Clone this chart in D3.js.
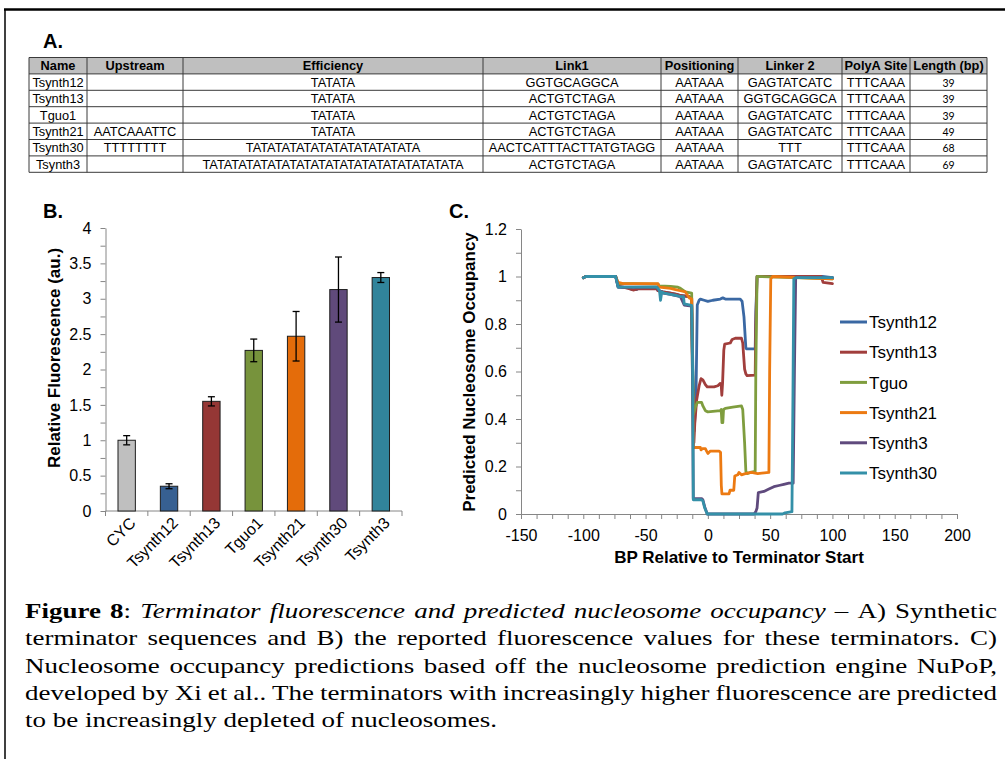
<!DOCTYPE html>
<html><head><meta charset="utf-8">
<script src="https://cdn.jsdelivr.net/npm/d3@7"></script>
<style>body{margin:0;background:#fff} svg{display:block}</style>
</head><body>
<svg id="c" width="1005" height="759"></svg>
<script>
// ---------- DATA ----------
const tableColumns = ["Name","Upstream","Efficiency","Link1","Positioning","Linker 2","PolyA Site","Length (bp)"];
const tableRows = [
  ["Tsynth12","","TATATA","GGTGCAGGCA","AATAAA","GAGTATCATC","TTTCAAA","39"],
  ["Tsynth13","","TATATA","ACTGTCTAGA","AATAAA","GGTGCAGGCA","TTTCAAA","39"],
  ["Tguo1","","TATATA","ACTGTCTAGA","AATAAA","GAGTATCATC","TTTCAAA","39"],
  ["Tsynth21","AATCAAATTC","TATATA","ACTGTCTAGA","AATAAA","GAGTATCATC","TTTCAAA","49"],
  ["Tsynth30","TTTTTTTT","TATATATATATATATATATATATA","AACTCATTTACTTATGTAGG","AATAAA","TTT","TTTCAAA","68"],
  ["Tsynth3","","TATATATATATATATATATATATATATATATATATA","ACTGTCTAGA","AATAAA","GAGTATCATC","TTTCAAA","69"]
];

const barCategories = ["CYC","Tsynth12","Tsynth13","Tguo1","Tsynth21","Tsynth30","Tsynth3"];
const barValues = [1.00, 0.35, 1.55, 2.27, 2.47, 3.13, 3.30];
const barErrors = [0.065, 0.035, 0.065, 0.16, 0.35, 0.46, 0.07];
const barColors = ["#bfbfbf","#376092","#953735","#77933c","#e46c0a","#604a7b","#31849b"];
const barYTicks = [0,0.5,1,1.5,2,2.5,3,3.5,4];

const lineXTicks = [-150,-100,-50,0,50,100,150,200];
const lineYTicks = [0,0.2,0.4,0.6,0.8,1,1.2];
const seriesNames = ["Tsynth12","Tsynth13","Tguo","Tsynth21","Tsynth3","Tsynth30"];
const seriesColors = ["#3a68a3","#a13e3c","#7f9d3e","#ec7a12","#5f4a7d","#3490a8"];

const tsynth12 = [[-100,0.995],[-98,1],[-74,1],[-72,0.955],[-63,0.952],[-61,0.945],[-57,0.945],[-56,0.95],[-41,0.95],[-40,0.94],[-36,0.935],[-30,0.93],[-25,0.925],[-22,0.92],[-15,0.915],[-13,0.91],[-12,0.6],[-11,0.35],[-9.5,0.5],[-8.5,0.88],[-7,0.9],[-6,0.905],[-3,0.9],[0,0.895],[4,0.9],[10,0.905],[12,0.91],[14,0.905],[26,0.905],[27.5,0.895],[29,0.83],[30.5,0.7],[31,0.695],[38,0.695],[38.5,0.85],[39.5,1],[92,1],[100,0.995]];
const tsynth13 = [[-100,0.995],[-98,1],[-74,1],[-72,0.96],[-68,0.955],[-64,0.95],[-60,0.943],[-56,0.948],[-41,0.948],[-40,0.94],[-36,0.935],[-30,0.93],[-25,0.925],[-22,0.92],[-15,0.915],[-13,0.91],[-12,0.5],[-11.2,0.3],[-10.5,0.38],[-9,0.48],[-7,0.54],[-5.5,0.57],[-4,0.565],[-2,0.545],[-0.5,0.535],[5,0.535],[8,0.54],[10,0.55],[10.7,0.545],[11.2,0.5],[11.8,0.55],[12.8,0.69],[13.5,0.715],[18,0.72],[19.5,0.735],[22,0.74],[27,0.74],[28,0.72],[29.5,0.61],[30.5,0.59],[31.5,0.583],[38,0.585],[38.5,0.8],[39.5,1],[91,1],[92.5,0.975],[100,0.97]];
const tguo = [[-100,0.995],[-98,1],[-74,1],[-72,0.97],[-60,0.97],[-40,0.968],[-39,0.96],[-30,0.958],[-24,0.955],[-22,0.95],[-18,0.935],[-13,0.93],[-12.5,0.7],[-11.5,0.42],[-10,0.45],[-8.5,0.47],[-5,0.47],[-4,0.455],[-2,0.435],[0,0.43],[10,0.435],[10.7,0.44],[11.3,0.385],[12,0.385],[12.6,0.44],[14,0.445],[20,0.45],[27,0.455],[28,0.44],[29.5,0.3],[30.5,0.18],[31.5,0.17],[34,0.175],[38,0.18],[38.5,0.6],[39.5,1],[100,0.99]];
const tsynth21 = [[-100,0.995],[-98,1],[-74,1],[-72,0.975],[-68,0.97],[-40,0.97],[-39,0.955],[-30,0.95],[-26,0.945],[-22,0.94],[-18,0.935],[-15,0.91],[-13,0.905],[-12.2,0.5],[-11.5,0.28],[-6,0.28],[-5.5,0.27],[-4.5,0.275],[-2,0.275],[-1,0.265],[0,0.255],[2,0.265],[9,0.265],[10.2,0.26],[10.8,0.12],[11.3,0.085],[17,0.085],[17.8,0.1],[20.8,0.1],[21.6,0.16],[24,0.165],[25,0.175],[27,0.165],[30,0.17],[35,0.175],[40,0.17],[49,0.175],[49.6,0.6],[50.5,0.99],[52,1],[100,0.99]];
const tsynth3 = [[-100,0.995],[-98,1],[-74,1],[-72,0.955],[-41,0.955],[-40,0.945],[-36,0.93],[-30,0.925],[-22,0.915],[-19,0.88],[-13,0.875],[-12.2,0.5],[-11.7,0.065],[-5,0.065],[-4,0.06],[-2.5,0.03],[-0.5,0],[37,0],[38.5,0.01],[39.5,0.025],[40.5,0.09],[45,0.095],[47,0.1],[49,0.105],[53,0.115],[57,0.12],[61,0.125],[65,0.13],[68.5,0.13],[69.5,0.6],[70.5,0.995],[100,0.995]];
const tsynth30 = [[-100,0.995],[-98,1],[-74,1],[-72,0.955],[-41,0.955],[-40,0.95],[-38.8,0.94],[-38,0.9],[-37,0.935],[-35,0.93],[-30,0.925],[-25,0.92],[-22,0.915],[-19.5,0.915],[-19,0.885],[-13,0.878],[-12.2,0.6],[-11.7,0.06],[-5,0.06],[-4,0.055],[-2.5,0.025],[-0.5,0],[60,0],[62,0.005],[67.5,0.01],[68.3,0.5],[69,0.99],[71,0.995],[100,0.995]];
const seriesData = [tsynth12, tsynth13, tguo, tsynth21, tsynth3, tsynth30];

const captionLines = [
  [[["Figure","b"]],[["8","b"],[":",""]],[["Terminator","i"]],[["fluorescence","i"]],[["and","i"]],[["predicted","i"]],[["nucleosome","i"]],[["occupancy","i"]],[["–",""]],[["A)",""]],[["Synthetic",""]]],
  "terminator sequences and B) the reported fluorescence values for these terminators. C)",
  "Nucleosome occupancy predictions based off the nucleosome prediction engine NuPoP,",
  "developed by Xi et al.. The terminators with increasingly higher fluorescence are predicted",
  "to be increasingly depleted of nucleosomes."
];

// ---------- DRAW ----------
const svg = d3.select("#c");
const SANS = "'Liberation Sans', Arial, sans-serif";
svg.append("rect").attr("width",1005).attr("height",759).attr("fill","#fff");

// frame
svg.append("line").attr("x1",4).attr("x2",1005).attr("y1",9.5).attr("y2",9.5).attr("stroke","#000").attr("stroke-width",2.5);
svg.append("line").attr("x1",5).attr("x2",5).attr("y1",9).attr("y2",759).attr("stroke","#000").attr("stroke-width",1.5);

// panel letters
[["A.",43,48],["B.",43,218],["C.",449,218]].forEach(([t,x,y])=>{
  svg.append("text").attr("x",x).attr("y",y).text(t).attr("font-family",SANS).attr("font-weight","bold").attr("font-size",20).attr("fill","#000");
});

// ---------- TABLE ----------
const colEdges = [29, 87, 183, 483, 661, 738, 842, 910, 987];
const rowTop = 57.5, rowH = 16.4;
const tbl = svg.append("g");
const allRows = [tableColumns, ...tableRows];
tbl.append("rect").attr("x",colEdges[0]).attr("y",rowTop).attr("width",colEdges[8]-colEdges[0]).attr("height",rowH).attr("fill","#bfbfbf");
allRows.forEach((row,ri)=>{
  const y = rowTop + ri*rowH;
  const g = tbl.append("g");
  g.selectAll("text").data(row).join("text")
    .attr("x",(d,i)=>(colEdges[i]+colEdges[i+1])/2)
    .attr("y",y+rowH/2+4.6)
    .attr("text-anchor","middle")
    .attr("font-family",(d,i)=> (ri>0 && i===7) ? "Lato, 'Open Sans', sans-serif" : SANS)
    .attr("font-size",(d,i)=> (ri>0 && i===7) ? 10.5 : 12.8)
    .attr("font-weight", ri===0 ? "bold" : "normal")
    .attr("fill","#000")
    .text(d=>d);
});
const gridCol = "#3a3a3a";
d3.range(allRows.length+1).forEach(i=>{
  tbl.append("line").attr("x1",colEdges[0]).attr("x2",colEdges[8]).attr("y1",rowTop+i*rowH).attr("y2",rowTop+i*rowH).attr("stroke",gridCol).attr("stroke-width",1);
});
colEdges.forEach(x=>{
  tbl.append("line").attr("x1",x).attr("x2",x).attr("y1",rowTop).attr("y2",rowTop+allRows.length*rowH).attr("stroke",gridCol).attr("stroke-width",1);
});

// ---------- BAR CHART ----------
const bx = d3.scaleBand().domain(barCategories).range([105.5, 402]).padding(0);
const by = d3.scaleLinear().domain([0,4]).range([511, 228]);
const axisCol = "#868686";
const barG = svg.append("g");
const yAxB = barG.append("g").attr("transform","translate(105.5,0)")
  .call(d3.axisLeft(by).tickValues(d3.range(0,4.01,0.25)).tickSize(5).tickSizeOuter(0).tickPadding(9)
    .tickFormat(d=> barYTicks.some(t=>Math.abs(t-d)<1e-6) ? d3.format("~g")(d) : ""));
yAxB.select(".domain").attr("stroke",axisCol);
yAxB.selectAll(".tick line").attr("stroke",axisCol);
yAxB.selectAll("text").attr("font-family",SANS).attr("font-size",16).attr("fill","#000");
// x axis
barG.append("line").attr("x1",105.5).attr("x2",402).attr("y1",511).attr("y2",511).attr("stroke",axisCol);
barG.selectAll(".xt").data([...barCategories.map(c=>bx(c)), 402]).join("line")
  .attr("x1",d=>d).attr("x2",d=>d).attr("y1",511).attr("y2",516).attr("stroke",axisCol);
// bars
const bw = bx.bandwidth()*0.41;
barG.selectAll(".bar").data(barCategories).join("rect")
  .attr("x",d=>bx(d)+bx.bandwidth()/2-bw/2)
  .attr("y",(d,i)=>by(barValues[i]))
  .attr("width",bw)
  .attr("height",(d,i)=>by(0)-by(barValues[i]))
  .attr("fill",(d,i)=>barColors[i])
  .attr("stroke","#1e1e1e").attr("stroke-width",1);
// error bars
barCategories.forEach((c,i)=>{
  const cx = bx(c)+bx.bandwidth()/2;
  const y1 = by(barValues[i]+barErrors[i]), y2 = by(barValues[i]-barErrors[i]);
  barG.append("line").attr("x1",cx).attr("x2",cx).attr("y1",y1).attr("y2",y2).attr("stroke","#000").attr("stroke-width",1.3);
  [y1,y2].forEach(y=>barG.append("line").attr("x1",cx-3.5).attr("x2",cx+3.5).attr("y1",y).attr("y2",y).attr("stroke","#000").attr("stroke-width",1.3));
});
// x labels
barG.selectAll(".xl").data(barCategories).join("text")
  .attr("transform",d=>`translate(${bx(d)+bx.bandwidth()/2+6},${520}) rotate(-45)`)
  .attr("text-anchor","end").attr("dy","0.35em")
  .attr("font-family",SANS).attr("font-size",16).attr("fill","#000")
  .text(d=>d);
// y title
barG.append("text").attr("transform","translate(60,358) rotate(-90)")
  .attr("text-anchor","middle").attr("font-family",SANS).attr("font-weight","bold").attr("font-size",17).attr("fill","#000")
  .text("Relative Fluorescence (au.)");

// ---------- LINE CHART ----------
const lx = d3.scaleLinear().domain([-150,200]).range([521, 957]);
const ly = d3.scaleLinear().domain([0,1.2]).range([514, 229]);
const lg = svg.append("g");
const yAxL = lg.append("g").attr("transform",`translate(${lx(-150)},0)`)
  .call(d3.axisLeft(ly).tickValues(d3.range(0,1.201,0.1)).tickSize(5).tickSizeOuter(0).tickPadding(9)
    .tickFormat(d=> lineYTicks.some(t=>Math.abs(t-d)<1e-6) ? d3.format("~g")(+d.toFixed(2)) : ""));
yAxL.select(".domain").attr("stroke",axisCol);
yAxL.selectAll(".tick line").attr("stroke",axisCol);
yAxL.selectAll("text").attr("font-family",SANS).attr("font-size",16).attr("fill","#000");
const xAxL = lg.append("g").attr("transform",`translate(0,${ly(0)})`)
  .call(d3.axisBottom(lx).tickValues(d3.range(-150,200.1,12.5)).tickSize(5).tickSizeOuter(0).tickPadding(11)
    .tickFormat(d=> lineXTicks.includes(d) ? d : ""));
xAxL.select(".domain").attr("stroke",axisCol);
xAxL.selectAll(".tick line").attr("stroke",axisCol);
xAxL.selectAll("text").attr("font-family",SANS).attr("font-size",16).attr("fill","#000");

const lineGen = d3.line().x(d=>lx(d[0])).y(d=>ly(d[1]));
lg.selectAll(".series").data(seriesData).join("path")
  .attr("d",lineGen).attr("fill","none")
  .attr("stroke",(d,i)=>seriesColors[i]).attr("stroke-width",2.8)
  .attr("stroke-linejoin","round").attr("stroke-linecap","round");

// legend
const legY = d3.scalePoint().domain(seriesNames).range([322, 473]);
seriesNames.forEach((n,i)=>{
  lg.append("line").attr("x1",840).attr("x2",867).attr("y1",legY(n)).attr("y2",legY(n)).attr("stroke",seriesColors[i]).attr("stroke-width",3);
  lg.append("text").attr("x",869).attr("y",legY(n)).attr("dy","0.36em").attr("font-family",SANS).attr("font-size",17).attr("fill","#000").text(n);
});
lg.append("text").attr("x",(lx(-150)+lx(200))/2).attr("y",563).attr("text-anchor","middle")
  .attr("font-family",SANS).attr("font-weight","bold").attr("font-size",17).attr("fill","#000")
  .text("BP Relative to Terminator Start");
lg.append("text").attr("transform","translate(475,372) rotate(-90)").attr("text-anchor","middle")
  .attr("font-family",SANS).attr("font-weight","bold").attr("font-size",17).attr("fill","#000")
  .text("Predicted Nucleosome Occupancy");

// ---------- CAPTION ----------
const SERIF = "'Liberation Serif', 'Times New Roman', Times, serif";
const capFs = 22, capLeft = 25, capRight = 997, capBase = 618, capLH = 27.3;
const capG = svg.append("g");
function wordsOf(line){
  if (typeof line === "string") return line.split(" ").map(w=>[[w,""]]);
  return line;
}
function makeWord(parent, segs){
  const t = parent.append("text").attr("font-family",SERIF).attr("font-size",capFs).attr("fill","#000");
  segs.forEach(([s,st])=>{
    t.append("tspan").text(s)
      .attr("font-weight", st==="b" ? "bold" : "normal")
      .attr("font-style", st==="i" ? "italic" : "normal");
  });
  return t;
}
const tmp = capG.append("g");
const lastWords = wordsOf(captionLines[4]).map(w=>makeWord(tmp,w));
const spaceW = capFs*0.25;
const lastNat = d3.sum(lastWords,t=>t.node().getComputedTextLength()) + spaceW*(lastWords.length-1);
tmp.remove();
const sx = 472/lastNat;
captionLines.forEach((line,li)=>{
  const g = capG.append("g").attr("transform",`translate(${capLeft},${capBase+li*capLH}) scale(${sx},1)`);
  const ws = wordsOf(line).map(w=>makeWord(g,w));
  const widths = ws.map(t=>t.node().getComputedTextLength());
  const total = d3.sum(widths);
  const target = (capRight-capLeft)/sx;
  const gap = (li < captionLines.length-1) ? (target-total)/(ws.length-1) : spaceW;
  let x = 0;
  ws.forEach((t,i)=>{ t.attr("x",x); x += widths[i]+gap; });
});
</script>
</body></html>
